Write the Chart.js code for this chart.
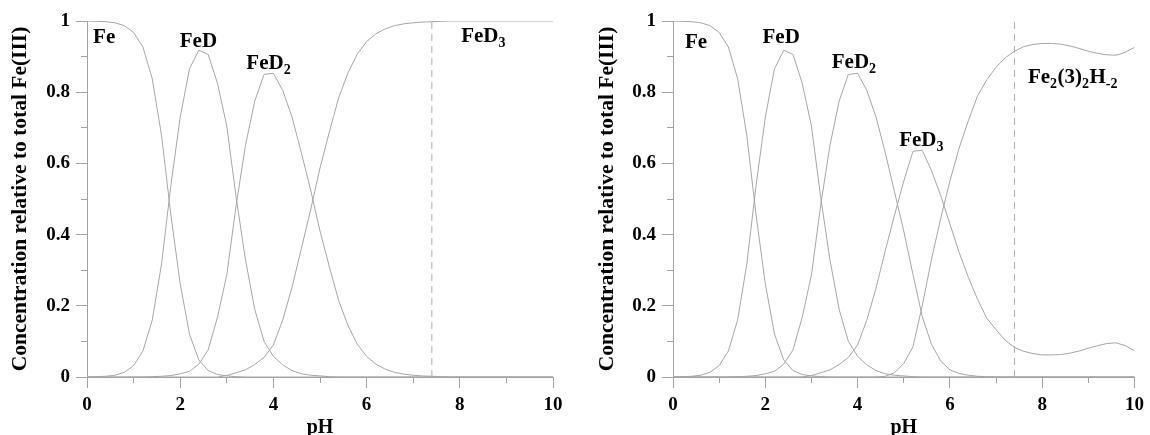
<!DOCTYPE html>
<html>
<head>
<meta charset="utf-8">
<script src="https://cdn.jsdelivr.net/npm/chart.js@4.4.1/dist/chart.umd.min.js"></script>
<style>
  html, body { margin: 0; padding: 0; background: #fff; overflow: hidden; }
  #wrap { position: relative; width: 1150px; height: 435px; overflow: hidden; }
  canvas { position: absolute; top: 0; }
  #left-chart { left: 0; }
  #right-chart { left: 575px; }
</style>
</head>
<body>
<div id="wrap">
  <canvas id="left-chart" width="575" height="460"></canvas>
  <canvas id="right-chart" width="575" height="460"></canvas>
</div>
<script>
'use strict';
// pH grid of the speciation calculation
var ph = [0, 0.2, 0.4, 0.6, 0.8, 1, 1.2, 1.4, 1.6, 1.8,
  2, 2.2, 2.4, 2.6, 2.8, 3, 3.2, 3.4, 3.6, 3.8,
  4, 4.2, 4.4, 4.6, 4.8, 5, 5.2, 5.4, 5.6, 5.8,
  6, 6.2, 6.4, 6.6, 6.8, 7, 7.2, 7.4, 7.6, 7.8,
  8, 8.2, 8.4, 8.6, 8.8, 9, 9.2, 9.4, 9.6, 9.8, 10];

// fractions shared by both systems
var fe = [1.000, 0.999, 0.998, 0.995, 0.987, 0.968, 0.927, 0.838, 0.678, 0.455,
  0.262, 0.120, 0.048, 0.018, 0.007, 0.003, 0.001, 0, 0, 0,
  0, 0, 0, 0, 0, 0, 0, 0, 0, 0,
  0, 0, 0, 0, 0, 0, 0, 0, 0, 0,
  0, 0, 0, 0, 0, 0, 0, 0, 0, 0, 0];
var feD = [0.000, 0.001, 0.002, 0.005, 0.013, 0.032, 0.073, 0.160, 0.318, 0.538,
  0.730, 0.866, 0.918, 0.906, 0.825, 0.705, 0.505, 0.330, 0.190, 0.100,
  0.058, 0.034, 0.018, 0.009, 0.005, 0.003, 0.001, 0, 0, 0,
  0, 0, 0, 0, 0, 0, 0, 0, 0, 0,
  0, 0, 0, 0, 0, 0, 0, 0, 0, 0, 0];

// left system: FeD3 is the final species
var feD2 = [0, 0, 0, 0, 0, 0, 0, 0.001, 0.002, 0.004,
  0.009, 0.016, 0.036, 0.076, 0.168, 0.287, 0.482, 0.650, 0.775, 0.850,
  0.853, 0.805, 0.730, 0.630, 0.525, 0.410, 0.310, 0.215, 0.145, 0.092,
  0.058, 0.036, 0.022, 0.013, 0.008, 0.005, 0.003, 0.002, 0.001, 0,
  0, 0, 0, 0, 0, 0, 0, 0, 0, 0, 0];
var feD3 = [0, 0, 0, 0, 0, 0, 0, 0, 0, 0,
  0, 0, 0, 0, 0, 0.004, 0.012, 0.020, 0.035, 0.055,
  0.090, 0.160, 0.252, 0.361, 0.470, 0.587, 0.688, 0.784, 0.854, 0.907,
  0.942, 0.964, 0.978, 0.987, 0.992, 0.995, 0.997, 0.998, 0.999, 1.000,
  1, 1, 1, 1, 1, 1, 1, 1, 1, 1, 1];

// right system: dimer Fe2(3)2H-2 takes over above pH 5
var feD2Dimer = [0, 0, 0, 0, 0, 0, 0, 0.001, 0.002, 0.004,
  0.009, 0.016, 0.036, 0.076, 0.168, 0.287, 0.482, 0.650, 0.775, 0.850,
  0.853, 0.805, 0.730, 0.630, 0.520, 0.410, 0.288, 0.170, 0.092, 0.045,
  0.020, 0.010, 0.005, 0.002, 0.001, 0, 0, 0, 0, 0,
  0, 0, 0, 0, 0, 0, 0, 0, 0, 0, 0];
var feD3Dimer = [0, 0, 0, 0, 0, 0, 0, 0, 0, 0,
  0, 0, 0, 0, 0, 0.004, 0.012, 0.020, 0.035, 0.055,
  0.090, 0.160, 0.250, 0.355, 0.455, 0.550, 0.634, 0.637, 0.580, 0.510,
  0.430, 0.350, 0.280, 0.218, 0.165, 0.133, 0.103, 0.083, 0.072, 0.066,
  0.062, 0.062, 0.063, 0.067, 0.073, 0.081, 0.088, 0.094, 0.096, 0.088, 0.074];
var fe2H2 = [0, 0, 0, 0, 0, 0, 0, 0, 0, 0,
  0, 0, 0, 0, 0, 0, 0, 0, 0, 0,
  0, 0, 0, 0.002, 0.012, 0.038, 0.085, 0.200, 0.330, 0.445,
  0.550, 0.643, 0.720, 0.790, 0.835, 0.870, 0.897, 0.915, 0.928, 0.934,
  0.937, 0.937, 0.935, 0.930, 0.923, 0.915, 0.909, 0.905, 0.904, 0.912, 0.926];

var physiologicalPH = 7.4;

// species names, [text, subscript?] pieces, anchored at data coords (baseline-left)
var leftLabels = [
  { x: 0.13, y: 0.937, parts: [['Fe', 0]] },
  { x: 1.99, y: 0.926, parts: [['FeD', 0]] },
  { x: 3.42, y: 0.865, parts: [['FeD', 0], ['2', 1]] },
  { x: 8.03, y: 0.942, parts: [['FeD', 0], ['3', 1]] }
];
var rightLabels = [
  { x: 0.26, y: 0.923, parts: [['Fe', 0]] },
  { x: 1.94, y: 0.937, parts: [['FeD', 0]] },
  { x: 3.44, y: 0.867, parts: [['FeD', 0], ['2', 1]] },
  { x: 4.90, y: 0.648, parts: [['FeD', 0], ['3', 1]] },
  { x: 7.69, y: 0.826, parts: [['Fe', 0], ['2', 1], ['(3)', 0], ['2', 1], ['H', 0], ['-2', 1]] }
];

var serif = '"Liberation Serif", "Times New Roman", serif';
var axisColor = '#a3a3a3';
var curveColor = '#a6a6a6';

function points(values) {
  return ph.map(function (p, i) { return { x: p, y: values[i] }; });
}

function curve(values) {
  return {
    data: points(values),
    borderColor: curveColor,
    borderWidth: 1,
    pointRadius: 0,
    tension: 0,
    fill: false
  };
}

function guideLine() {
  return {
    data: [{ x: physiologicalPH, y: 0 }, { x: physiologicalPH, y: 1 }],
    borderColor: '#b0b0b0',
    borderWidth: 1,
    borderDash: [7, 5],
    pointRadius: 0,
    fill: false
  };
}

function align(v) { return Math.round(v - 0.5) + 0.5; }

// short ticks at the odd steps of both axes
var minorTicks = {
  id: 'minorTicks',
  afterDraw: function (chart) {
    var ctx = chart.ctx, area = chart.chartArea;
    var xs = chart.scales.x, ys = chart.scales.y;
    ctx.save();
    ctx.strokeStyle = axisColor;
    ctx.lineWidth = 1;
    ctx.beginPath();
    [1, 3, 5, 7, 9].forEach(function (v) {
      var px = align(xs.getPixelForValue(v));
      ctx.moveTo(px, area.bottom);
      ctx.lineTo(px, area.bottom + 6);
    });
    [0.1, 0.3, 0.5, 0.7, 0.9].forEach(function (v) {
      var py = align(ys.getPixelForValue(v));
      ctx.moveTo(area.left, py);
      ctx.lineTo(area.left - 6, py);
    });
    ctx.stroke();
    ctx.restore();
  }
};

var speciesLabels = {
  id: 'speciesLabels',
  afterDatasetsDraw: function (chart, args, opts) {
    var ctx = chart.ctx;
    var xs = chart.scales.x, ys = chart.scales.y;
    ctx.save();
    ctx.fillStyle = '#000';
    ctx.textAlign = 'left';
    ctx.textBaseline = 'alphabetic';
    (opts.items || []).forEach(function (item) {
      var px = xs.getPixelForValue(item.x);
      var py = ys.getPixelForValue(item.y);
      item.parts.forEach(function (part) {
        ctx.font = part[1] ? 'bold 14px ' + serif : 'bold 21px ' + serif;
        ctx.fillText(part[0], px, py + (part[1] ? 5 : 0));
        px += ctx.measureText(part[0]).width + (part[1] ? 0.5 : 0);
      });
    });
    ctx.restore();
  }
};

function makeChart(id, datasets, labels, axisWidth, padRight, titlePad) {
  var tickFont = { family: serif, size: 19, weight: 'bold' };
  return new Chart(document.getElementById(id).getContext('2d'), {
    type: 'line',
    data: { datasets: datasets },
    plugins: [minorTicks, speciesLabels],
    options: {
      responsive: false,
      animation: false,
      events: [],
      layout: { padding: { top: 21, right: padRight, bottom: 0, left: 0 } },
      plugins: {
        legend: { display: false },
        tooltip: { enabled: false },
        speciesLabels: { items: labels }
      },
      scales: {
        x: {
          type: 'linear',
          min: 0,
          max: 10,
          afterFit: function (s) { s.height = 83; },
          ticks: { stepSize: 2, color: '#000', font: tickFont, padding: 6, maxRotation: 0 },
          grid: { drawOnChartArea: false, drawTicks: true, tickLength: 11, tickColor: axisColor },
          border: { color: axisColor, width: 1 },
          title: {
            display: true,
            text: 'pH',
            color: '#000',
            font: { family: serif, size: 20, weight: 'bold' },
            padding: { top: 0, bottom: 20 }
          }
        },
        y: {
          min: 0,
          max: 1,
          afterFit: function (s) { s.width = axisWidth; },
          ticks: {
            stepSize: 0.2,
            color: '#000',
            font: tickFont,
            padding: 6,
            callback: function (v) {
              if (v === 0) return '0';
              if (v === 1) return '1';
              return v.toFixed(1);
            }
          },
          grid: { drawOnChartArea: false, drawTicks: true, tickLength: 11, tickColor: axisColor },
          border: { color: axisColor, width: 1 },
          title: {
            display: true,
            text: 'Concentration relative to total Fe(III)',
            color: '#000',
            font: { family: serif, size: 21.5, weight: 'bold' },
            padding: { top: titlePad, bottom: 0 }
          }
        }
      }
    }
  });
}

makeChart('left-chart',
  [curve(fe), curve(feD), curve(feD2), curve(feD3), guideLine()],
  leftLabels, 87, 22, 8);

makeChart('right-chart',
  [curve(fe), curve(feD), curve(feD2Dimer), curve(feD3Dimer), curve(fe2H2), guideLine()],
  rightLabels, 98, 11, 20);
</script>
</body>
</html>
